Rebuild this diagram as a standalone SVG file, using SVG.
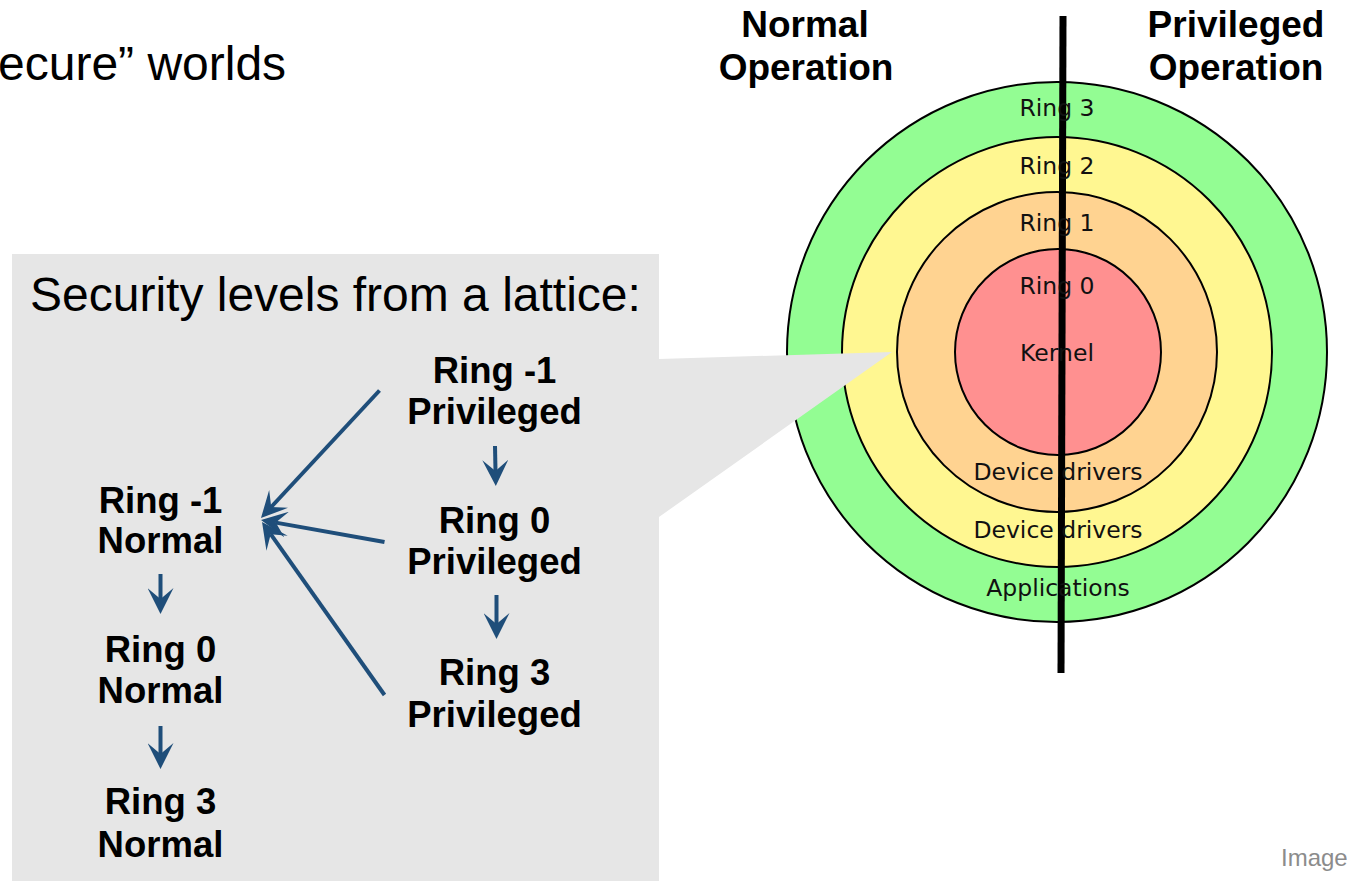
<svg xmlns="http://www.w3.org/2000/svg" width="1347" height="881" viewBox="0 0 1347 881">
<style>
.ring{stroke:#000;stroke-width:2}
.rt{font-family:"DejaVu Sans",sans-serif;font-size:23.5px;fill:#111;text-anchor:middle}
.hd{font-family:"Liberation Sans",Arial,sans-serif;font-weight:bold;font-size:37px;fill:#000;text-anchor:middle}
.nd{font-family:"Liberation Sans",Arial,sans-serif;font-weight:bold;font-size:36.5px;fill:#000;text-anchor:middle}
.big{font-family:"Liberation Sans",Arial,sans-serif;font-size:48px;fill:#000}
.arr{stroke:#1f4e7a;stroke-width:4;fill:none;marker-end:url(#ah)}
</style>
<defs>
<marker id="ah" viewBox="0 -13 26 26" refX="11" refY="0" markerWidth="26" markerHeight="26" markerUnits="userSpaceOnUse" orient="auto">
<path d="M0,-13 L26,0 L0,13 L11,0 Z" fill="#1f4e7a"/>
</marker>
</defs>
<rect width="1347" height="881" fill="#fff"/>
<text class="big" x="-2" y="80">ecure” worlds</text>
<g id="rings">
<circle class="ring" cx="1057" cy="352" r="270" fill="#93fd93"/>
<circle class="ring" cx="1057" cy="352" r="215" fill="#fff791"/>
<circle class="ring" cx="1057" cy="352" r="160" fill="#ffd391"/>
<circle class="ring" cx="1058" cy="352" r="103" fill="#ff9090"/>
</g>
<g id="panel">
<path d="M12,254 H659 V359 L892,352 L659,517 V881 H12 Z" fill="#e6e6e6"/>
<text class="big" x="30" y="311">Security levels from a lattice:</text>
</g>
<line x1="1063" y1="16" x2="1061" y2="673" stroke="#000" stroke-width="7"/>
<g id="ring-labels">
<text class="rt" x="1057" y="116">Ring 3</text>
<text class="rt" x="1057" y="174">Ring 2</text>
<text class="rt" x="1057" y="231">Ring 1</text>
<text class="rt" x="1057" y="294">Ring 0</text>
<text class="rt" x="1057" y="361">Kernel</text>
<text class="rt" x="1058" y="480">Device drivers</text>
<text class="rt" x="1058" y="538">Device drivers</text>
<text class="rt" x="1058" y="596">Applications</text>
</g>
<g id="hdr-normal"><text class="hd" x="805" y="37">Normal</text><text class="hd" x="806" y="80">Operation</text></g>
<g id="hdr-priv"><text class="hd" x="1236" y="37">Privileged</text><text class="hd" x="1236" y="80">Operation</text></g>
<g id="n-ring-1-normal"><text class="nd" x="160.5" y="512.5">Ring -1</text><text class="nd" x="160.5" y="553">Normal</text></g>
<g id="n-ring0-normal"><text class="nd" x="160.5" y="662">Ring 0</text><text class="nd" x="160.5" y="703">Normal</text></g>
<g id="n-ring3-normal"><text class="nd" x="160.5" y="813.5">Ring 3</text><text class="nd" x="160.5" y="856.5">Normal</text></g>
<g id="n-ring-1-priv"><text class="nd" x="494.5" y="382.5">Ring -1</text><text class="nd" x="494.5" y="423.5">Privileged</text></g>
<g id="n-ring0-priv"><text class="nd" x="494.5" y="532.5">Ring 0</text><text class="nd" x="494.5" y="573.5">Privileged</text></g>
<g id="n-ring3-priv"><text class="nd" x="494.5" y="685">Ring 3</text><text class="nd" x="494.5" y="726.5">Privileged</text></g>
<g id="connectors">
<line class="arr" x1="160.5" y1="574" x2="160.5" y2="599"/>
<line class="arr" x1="160.5" y1="726" x2="160.5" y2="754"/>
<line class="arr" x1="495" y1="446" x2="495.5" y2="471"/>
<line class="arr" x1="496.5" y1="595" x2="496.5" y2="624"/>
<line class="arr" x1="379.5" y1="390.5" x2="271.2" y2="507"/>
<line class="arr" x1="384.5" y1="542" x2="275.8" y2="522.6"/>
<line class="arr" x1="384.5" y1="695" x2="270.7" y2="534.2"/>
</g>
<text x="1281" y="866" font-family="Liberation Sans, Arial, sans-serif" font-size="24" fill="#8c8c8c">Image</text>
</svg>
